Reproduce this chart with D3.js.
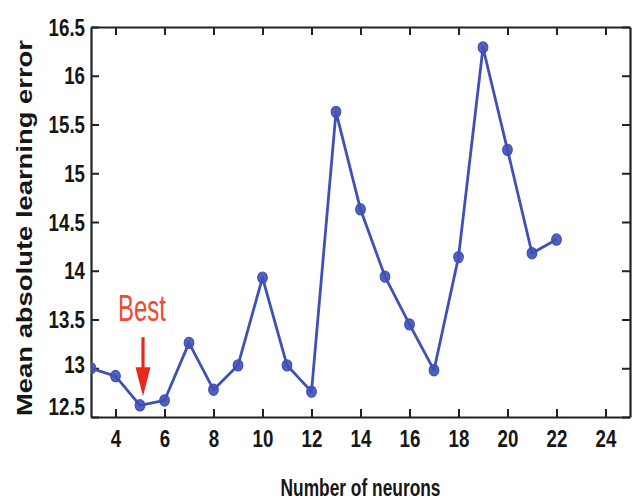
<!DOCTYPE html>
<html>
<head>
<meta charset="utf-8">
<script src="https://cdn.jsdelivr.net/npm/d3@7"></script>
<style>
  html, body { margin: 0; padding: 0; background: #fff; }
  svg { display: block; }
  text { font-family: "Liberation Sans", Arial, Helvetica, sans-serif; }
</style>
</head>
<body>
<svg id="chart" width="635" height="500"></svg>
<script>
// ---- data ----
const neurons = [3, 4, 5, 6, 7, 8, 9, 10, 11, 12, 13, 14, 15, 16, 17, 18, 19, 20, 21, 22];
const errors  = [13.00, 12.92, 12.62, 12.67, 13.26, 12.78, 13.03, 13.93, 13.03, 12.76,
                 15.63, 14.63, 13.94, 13.45, 12.98, 14.14, 16.29, 15.24, 14.18, 14.32];
const xTicks = [4, 6, 8, 10, 12, 14, 16, 18, 20, 22, 24];
const yTicks = [12.5, 13, 13.5, 14, 14.5, 15, 15.5, 16, 16.5];
const bestNeurons = 5;
const bestLabel = "Best";
const xTitle = "Number of neurons";
const yTitle = "Mean absolute learning error";

// ---- layout ----
const svg = d3.select("#chart");
const m = { left: 91, right: 5, top: 27, bottom: 83 };
const W = 635, H = 500;
const x = d3.scaleLinear().domain([3, 25]).range([m.left, W - m.right]);
const y = d3.scaleLinear().domain([12.5, 16.5]).range([H - m.bottom, m.top]);

const lineColor = "#3f51b5";
const axisColor = "#222";
const textColor = "#161616";
const sx = 0.78;   // horizontal condensation of tick labels

svg.append("defs").append("clipPath").attr("id", "clip")
  .append("rect").attr("x", m.left).attr("y", m.top)
  .attr("width", x.range()[1] - m.left).attr("height", y.range()[0] - m.top);

const tickLen = 8;
const gBottom = svg.append("g").attr("transform", `translate(0,${y.range()[0]})`)
  .call(d3.axisBottom(x).tickValues(xTicks).tickSizeInner(-tickLen).tickSizeOuter(0).tickPadding(13));
const gTop = svg.append("g").attr("transform", `translate(0,${m.top})`)
  .call(d3.axisTop(x).tickValues(xTicks).tickSizeInner(-tickLen).tickSizeOuter(0).tickFormat(""));
const gLeft = svg.append("g").attr("transform", `translate(${m.left},0)`)
  .call(d3.axisLeft(y).tickValues(yTicks).tickSizeInner(-tickLen).tickSizeOuter(0).tickPadding(6).tickFormat(d3.format("")));
const gRight = svg.append("g").attr("transform", `translate(${x.range()[1]},0)`)
  .call(d3.axisRight(y).tickValues(yTicks).tickSizeInner(-tickLen).tickSizeOuter(0).tickFormat(""));

[gBottom, gTop, gLeft, gRight].forEach(g => {
  g.select(".domain").attr("stroke", axisColor).attr("stroke-width", 2.2);
  g.selectAll(".tick line").attr("stroke", axisColor).attr("stroke-width", 2);
  g.selectAll(".tick text").attr("fill", textColor).attr("font-size", 24)
    .attr("font-weight", "bold").attr("font-family", "Liberation Sans, Arial, sans-serif");
});
gBottom.selectAll(".tick text").attr("transform", `scale(${sx},1)`);
gLeft.selectAll(".tick text")
  .attr("x", -6 / sx)
  .attr("transform", `scale(${sx},1)`)
  .attr("dy", d => d === 12.5 ? "-0.1em" : (d === 13 ? "0.18em" : "0.34em"));

// line + markers
const plot = svg.append("g").attr("clip-path", "url(#clip)");
const pts = neurons.map((n, i) => ({ n, e: errors[i] }));
plot.append("path").datum(pts)
  .attr("fill", "none").attr("stroke", lineColor).attr("stroke-width", 2.8)
  .attr("stroke-linejoin", "round")
  .attr("d", d3.line().x(d => x(d.n)).y(d => y(d.e)));
plot.selectAll("ellipse").data(pts).join("ellipse")
  .attr("cx", d => x(d.n)).attr("cy", d => y(d.e)).attr("rx", 4.8).attr("ry", 5.6)
  .attr("fill", lineColor).attr("fill-opacity", 0.9)
  .attr("stroke", lineColor).attr("stroke-width", 1.2);

// "Best" annotation
const bx = x(bestNeurons) + 3;
const by = y(errors[neurons.indexOf(bestNeurons)]);
svg.append("text").attr("x", bx - 1).attr("y", by - 84)
  .attr("text-anchor", "middle").attr("fill", "#ef4a33")
  .attr("font-size", 37)
  .attr("textLength", 48).attr("lengthAdjust", "spacingAndGlyphs")
  .text(bestLabel);
svg.append("line")
  .attr("x1", bx).attr("x2", bx)
  .attr("y1", by - 68).attr("y2", by - 34)
  .attr("stroke", "#e8281c").attr("stroke-width", 3.2);
svg.append("path")
  .attr("d", `M${bx - 7.5},${by - 38} L${bx + 7.5},${by - 38} L${bx},${by - 9} Z`)
  .attr("fill", "#e8281c");

// axis titles
svg.append("text")
  .attr("x", (m.left + x.range()[1]) / 2).attr("y", 496)
  .attr("text-anchor", "middle").attr("fill", textColor).attr("font-size", 23)
  .attr("font-weight", "bold")
  .attr("textLength", 160).attr("lengthAdjust", "spacingAndGlyphs")
  .text(xTitle);
svg.append("text")
  .attr("transform", `translate(32,${(m.top + y.range()[0]) / 2 + 6}) rotate(-90)`)
  .attr("text-anchor", "middle").attr("fill", textColor).attr("font-size", 22)
  .attr("font-weight", "bold")
  .attr("textLength", 376).attr("lengthAdjust", "spacingAndGlyphs")
  .text(yTitle);
</script>
</body>
</html>
